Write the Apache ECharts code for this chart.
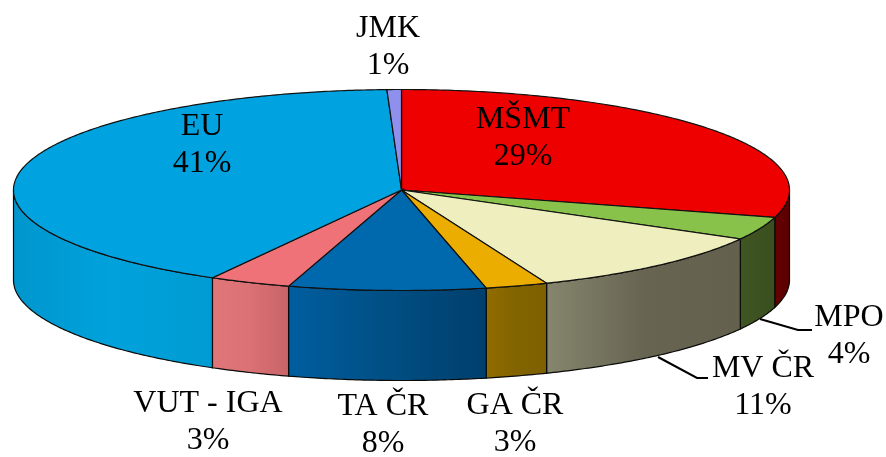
<!DOCTYPE html>
<html>
<head>
<meta charset="utf-8">
<style>
html,body{margin:0;padding:0;background:#fff;}
#main{width:886px;height:457px;}
</style>
<script src="https://cdn.jsdelivr.net/npm/echarts@6/dist/echarts.min.js"></script>
</head>
<body>
<div id="main"></div>
<script>
// slices clockwise from 12 o'clock
var categories = ['MŠMT', 'MPO', 'MV ČR', 'GA ČR', 'TA ČR', 'VUT - IGA', 'EU', 'JMK'];
var values = [29.4, 3.7, 10.8, 2.6, 8.2, 3.4, 41.3, 0.6];

var topColors = ['#ee0000', '#88c24a', '#eeeebe', '#ebae00', '#0068ac', '#ee7277', '#00a3e0', '#8f8fee'];
var wallLeft = ['#640000', '#3f5522', '#86856d', '#906d00', '#005e9f', '#e17679', '#0096cd', '#5a5a96'];
var wallMid = ['#600000', '#3d5220', '#676552', '#826300', '#004f84', '#da7174', '#00a2dc', '#5a5a96'];
var wallRight = ['#5c0000', '#3a4f1f', '#63614d', '#7f6000', '#003f6c', '#c86468', '#009bd2', '#5a5a96'];

// label centres, same order as categories
var labelX = [523, 849, 763, 515, 383, 208, 202, 388];
var labelY = [138, 336, 387, 424, 425, 422, 145, 47];

// leader lines for the two labels outside the wall
var leaders = [
	[[760, 319], [798, 330], [812, 330]],
	[[658, 357], [697, 378], [708, 378]]
];

var cx = 401.5, cy = 190, rx = 388, ry = 100.5, depth = 90;
var FONT = '32px "Liberation Serif"';

var total = values.reduce(function (a, b) { return a + b; }, 0);
function startAngle(i) {
	var s = 0;
	for (var k = 0; k < i; k++) s += values[k];
	return s / total * Math.PI * 2;
}
function rim(a, dy) {
	return [cx + rx * Math.sin(a), cy - ry * Math.cos(a) + (dy || 0)];
}
function arcPoints(a0, a1, dy) {
	var pts = [];
	var n = Math.max(2, Math.ceil((a1 - a0) / 0.01));
	for (var i = 0; i <= n; i++) pts.push(rim(a0 + (a1 - a0) * i / n, dy));
	return pts;
}

function renderWall(params, api) {
	var i = params.dataIndex;
	var a0 = Math.max(startAngle(i), Math.PI / 2);
	var a1 = Math.min(startAngle(i) + api.value(0) / total * Math.PI * 2, Math.PI * 1.5);
	if (a1 <= a0) return null;
	var pts = arcPoints(a0, a1, 0).concat(arcPoints(a0, a1, depth).reverse());
	return {
		type: 'polygon',
		shape: { points: pts },
		style: {
			fill: new echarts.graphic.LinearGradient(0, 0, 1, 0, [
				{ offset: 0, color: wallLeft[i] },
				{ offset: 0.5, color: wallMid[i] },
				{ offset: 1, color: wallRight[i] }
			]),
			stroke: '#0a0a0a',
			lineWidth: 1.2
		}
	};
}

function renderTop(params, api) {
	var i = params.dataIndex;
	var a0 = startAngle(i);
	var a1 = a0 + api.value(0) / total * Math.PI * 2;
	return {
		type: 'polygon',
		shape: { points: [[cx, cy]].concat(arcPoints(a0, a1, 0)) },
		style: { fill: topColors[i], stroke: '#111', lineWidth: 1.2 }
	};
}

function renderLabel(params, api) {
	var i = params.dataIndex;
	return {
		type: 'text',
		style: {
			text: categories[i] + '\n' + Math.round(api.value(0) / total * 100) + '%',
			x: labelX[i],
			y: labelY[i],
			align: 'center',
			verticalAlign: 'middle',
			font: FONT,
			lineHeight: 37,
			fill: '#000'
		}
	};
}

function renderLeader(params) {
	return {
		type: 'polyline',
		shape: { points: leaders[params.dataIndex] },
		style: { fill: null, stroke: '#000', lineWidth: 2 }
	};
}

var rows = values.map(function (v) { return [v]; });

var myChart = echarts.init(document.getElementById('main'), null, { renderer: 'canvas' });
myChart.setOption({
	backgroundColor: '#fff',
	animation: false,
	tooltip: { show: false },
	series: [
		{ type: 'custom', coordinateSystem: 'none', renderItem: renderLeader, data: leaders.map(function (l, i) { return [i]; }), silent: true, z: 1 },
		{ type: 'custom', coordinateSystem: 'none', renderItem: renderWall, data: rows, silent: true, z: 2 },
		{ type: 'custom', coordinateSystem: 'none', renderItem: renderTop, data: rows, silent: true, z: 3 },
		{ type: 'custom', coordinateSystem: 'none', renderItem: renderLabel, data: rows, silent: true, z: 4 }
	]
});
</script>
</body>
</html>
